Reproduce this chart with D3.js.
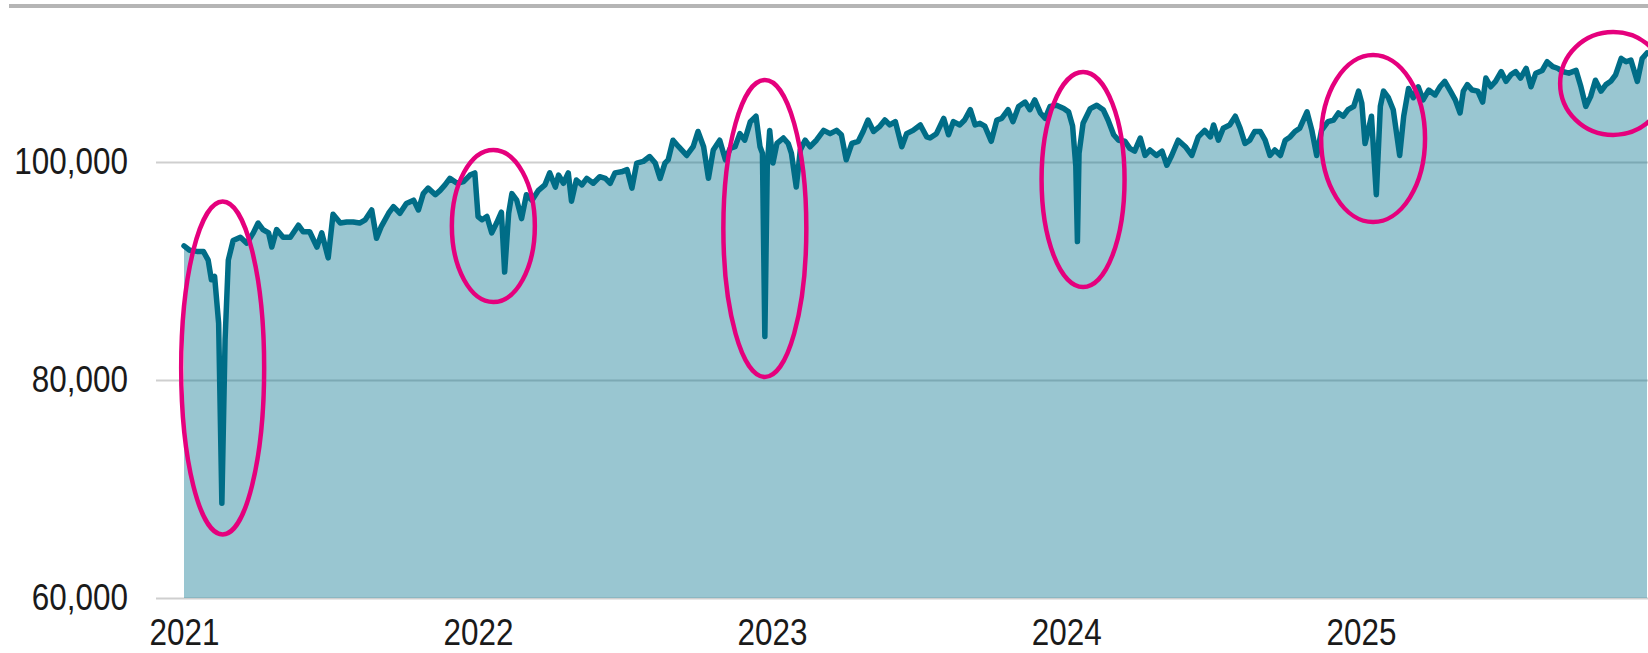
<!DOCTYPE html>
<html>
<head>
<meta charset="utf-8">
<script src="https://cdn.jsdelivr.net/npm/d3@7"></script>
<style>
  body { margin: 0; background: #fff; }
  text { font-family: "Liberation Sans", Arial, sans-serif; }
</style>
</head>
<body>
<svg id="chart" width="1648" height="653"></svg>
<script>
const startDate = new Date(Date.UTC(2021, 0, 1))

// days since 2021-01-01
const dayIndex = [
  0, 7, 16, 24, 30, 34, 38, 43, 47, 51, 55, 61, 70, 78, 86, 92, 98, 105, 109, 115,
  123, 132, 142, 148, 156, 165, 171, 179, 185, 194, 202, 210, 218, 225, 233, 239, 245, 254, 260, 268,
  276, 285, 291, 297, 303, 312, 318, 324, 330, 339, 347, 355, 361, 365, 370, 376, 382, 388, 394, 398,
  403, 407, 413, 419, 425, 432, 440, 448, 454, 461, 465, 471, 477, 481, 487, 494, 500, 508, 516, 523,
  529, 535, 543, 550, 556, 562, 570, 578, 585, 591, 597, 601, 607, 614, 624, 632, 638, 645, 651, 657,
  665, 672, 678, 684, 690, 696, 703, 710, 715, 718, 721, 724, 727, 731, 736, 744, 750, 754, 760, 765,
  771, 777, 785, 794, 802, 810, 816, 822, 829, 837, 843, 849, 856, 864, 870, 876, 883, 891, 897, 905,
  914, 922, 926, 934, 943, 949, 955, 963, 969, 976, 982, 988, 994, 1002, 1009, 1015, 1023, 1029, 1036, 1044,
  1050, 1056, 1063, 1069, 1075, 1083, 1092, 1098, 1103, 1107, 1109, 1111, 1116, 1125, 1133, 1141, 1147, 1154, 1160, 1168,
  1174, 1180, 1187, 1193, 1199, 1207, 1214, 1220, 1226, 1234, 1243, 1251, 1259, 1267, 1274, 1278, 1284, 1290, 1298, 1305,
  1311, 1317, 1323, 1329, 1336, 1342, 1348, 1354, 1361, 1367, 1373, 1379, 1385, 1394, 1400, 1406, 1412, 1420, 1427, 1433,
  1439, 1445, 1452, 1458, 1462, 1466, 1470, 1474, 1480, 1485, 1489, 1495, 1501, 1509, 1514, 1520, 1526, 1532, 1538, 1545,
  1553, 1559, 1565, 1572, 1578, 1584, 1588, 1593, 1599, 1606, 1612, 1616, 1622, 1628, 1635, 1641, 1647, 1653, 1659, 1666,
  1672, 1678, 1686, 1692, 1699, 1705, 1711, 1719, 1728, 1734, 1740, 1746, 1752, 1759, 1765, 1771, 1777, 1784, 1790, 1796,
  1804, 1810, 1816
]

const supply = [
  92300, 91900, 91800, 91800, 91000, 89200, 89500, 85200, 68700, 83700, 91000, 92800, 93100, 92550, 93500, 94400, 93800, 93500, 92200, 93800,
  93100, 93100, 94200, 93600, 93600, 92200, 93500, 91200, 95200, 94400, 94500, 94500, 94400, 94700, 95600, 93000, 94100, 95300, 95900, 95300,
  96200, 96500, 95600, 97100, 97600, 97000, 97400, 97900, 98500, 98050, 98200, 98800, 99000, 95000, 94700, 95000, 93500, 94400, 95400, 89900,
  95300, 97100, 96500, 94800, 97000, 96500, 97400, 97900, 99000, 97700, 98800, 98050, 99000, 96400, 98350, 97900, 98500, 98050, 98650, 98500,
  98050, 99000, 99100, 99300, 97600, 99900, 100050, 100500, 99900, 98500, 99900, 100200, 102000, 101400, 100600, 101400, 102800, 101400, 98500, 101100,
  102000, 100200, 101250, 101400, 102600, 102000, 103700, 104200, 101400, 100800, 84000, 99600, 102900, 99900, 101700, 102200, 101700, 100800, 97700, 101100,
  102000, 101400, 102000, 102900, 102600, 102900, 102500, 100200, 101700, 101900, 102800, 103850, 102800, 103300, 103850, 103400, 103700, 101400, 102600, 102900,
  103400, 102300, 102200, 102600, 104000, 102500, 103700, 103400, 103850, 104800, 103400, 103550, 103300, 101900, 103850, 104000, 104800, 103700, 105100, 105500,
  104800, 105700, 104500, 104000, 105100, 105200, 104900, 104600, 103300, 99600, 92700, 100800, 103550, 104900, 105200, 104800, 103850, 102500, 102000, 101900,
  101250, 101000, 102200, 100600, 101100, 100600, 101000, 99700, 100600, 102000, 101400, 100600, 102300, 102900, 102300, 103400, 102000, 103100, 103400, 104200,
  103100, 101700, 102000, 102800, 102800, 102000, 100600, 101100, 100600, 102000, 102300, 102800, 103100, 104600, 102900, 100600, 102900, 103700, 103850, 104500,
  104200, 104800, 105100, 106500, 105400, 101700, 102900, 104200, 97000, 105100, 106500, 105900, 104800, 100600, 104200, 106750, 105900, 106900, 105700, 106600,
  106150, 106900, 107400, 106500, 105700, 104500, 106500, 107100, 106600, 106500, 105500, 107700, 106900, 107400, 108300, 107400, 108000, 108300, 107700, 108600,
  106900, 108150, 108400, 109200, 108750, 108600, 108300, 108150, 108400, 106900, 105100, 106000, 107500, 106500, 107100, 107400, 108000, 109500, 109200, 109360,
  107400, 109500, 110000
]

const yearTicks = [2021, 2022, 2023, 2024, 2025]
const valueTicks = [60000, 80000, 100000]

// circled storm dips: centre (day, value) and half extents (days, value)
const stormDay = [48, 384, 721, 1116, 1476, 1774]
const stormValue = [81100, 94130, 93900, 98390, 102150, 107200]
const stormHalfDays = [51.5, 51.5, 51.5, 51.5, 64.5, 65.8]
const stormHalfValue = [15275, 6972, 13623, 9862, 7660, 4725]

const W = 1648
const H = 653
const SQUEEZE = 0.85 // labels in the original are a narrow face

const toDate = d => new Date(startDate.getTime() + d * 864e5)

const data = dayIndex.map((d, i) => ({ date: toDate(d), value: supply[i] }))

const x = d3.scaleUtc()
  .domain([startDate, d3.utcYear.offset(startDate, 4)])
  .range([184, 1361])

const y = d3.scaleLinear()
  .domain([60000, 100000])
  .range([598, 162])

const svg = d3.select("#chart")

const narrowLabels = sel => {
  sel.attr("font-size", 37)
    .attr("fill", "#1a1a1a")
    .attr("font-family", null)
    .attr("x", function() { return (+d3.select(this).attr("x") || 0) / SQUEEZE })
    .attr("transform", `scale(${SQUEEZE},1)`)
}

// grey rule along the top
svg.append("line")
  .attr("x1", 9).attr("x2", W)
  .attr("y1", 6).attr("y2", 6)
  .attr("stroke", "#b5b5b5")
  .attr("stroke-width", 4)

const yAxis = svg.append("g")
  .attr("transform", "translate(156,0)")
  .call(d3.axisLeft(y)
    .tickValues(valueTicks)
    .tickSize(-(W - 156))
    .tickPadding(28)
    .tickFormat(d3.format(",")))

yAxis.select(".domain").remove()
yAxis.selectAll(".tick line")
  .attr("stroke", "#cfcfcf")
  .attr("stroke-width", 2)
yAxis.selectAll(".tick text").call(narrowLabels)

const area = d3.area()
  .x(d => x(d.date))
  .y0(y(60000))
  .y1(d => y(d.value))

const line = d3.line()
  .x(d => x(d.date))
  .y(d => y(d.value))

svg.append("path")
  .datum(data)
  .attr("d", area)
  .attr("fill", "#00708c")
  .attr("fill-opacity", 0.4)

svg.append("path")
  .datum(data)
  .attr("d", line)
  .attr("fill", "none")
  .attr("stroke", "#006d87")
  .attr("stroke-width", 5.5)
  .attr("stroke-linejoin", "round")
  .attr("stroke-linecap", "round")

const xAxis = svg.append("g")
  .attr("transform", "translate(0,598)")
  .call(d3.axisBottom(x)
    .tickValues(yearTicks.map(yr => new Date(Date.UTC(yr, 0, 1))))
    .tickFormat(d3.utcFormat("%Y"))
    .tickSize(0)
    .tickPadding(21))

xAxis.select(".domain").remove()
xAxis.selectAll(".tick text").call(narrowLabels)

// magenta rings round the winter storm dips
svg.append("g")
  .selectAll("ellipse")
  .data(stormDay)
  .enter().append("ellipse")
    .attr("cx", d => x(toDate(d)))
    .attr("cy", (d, i) => y(stormValue[i]))
    .attr("rx", (d, i) => x(toDate(d + stormHalfDays[i])) - x(toDate(d)))
    .attr("ry", (d, i) => y(stormValue[i] - stormHalfValue[i]) - y(stormValue[i]))
    .attr("fill", "none")
    .attr("stroke", "#e5007d")
    .attr("stroke-width", 4.5)
</script>
</body>
</html>
